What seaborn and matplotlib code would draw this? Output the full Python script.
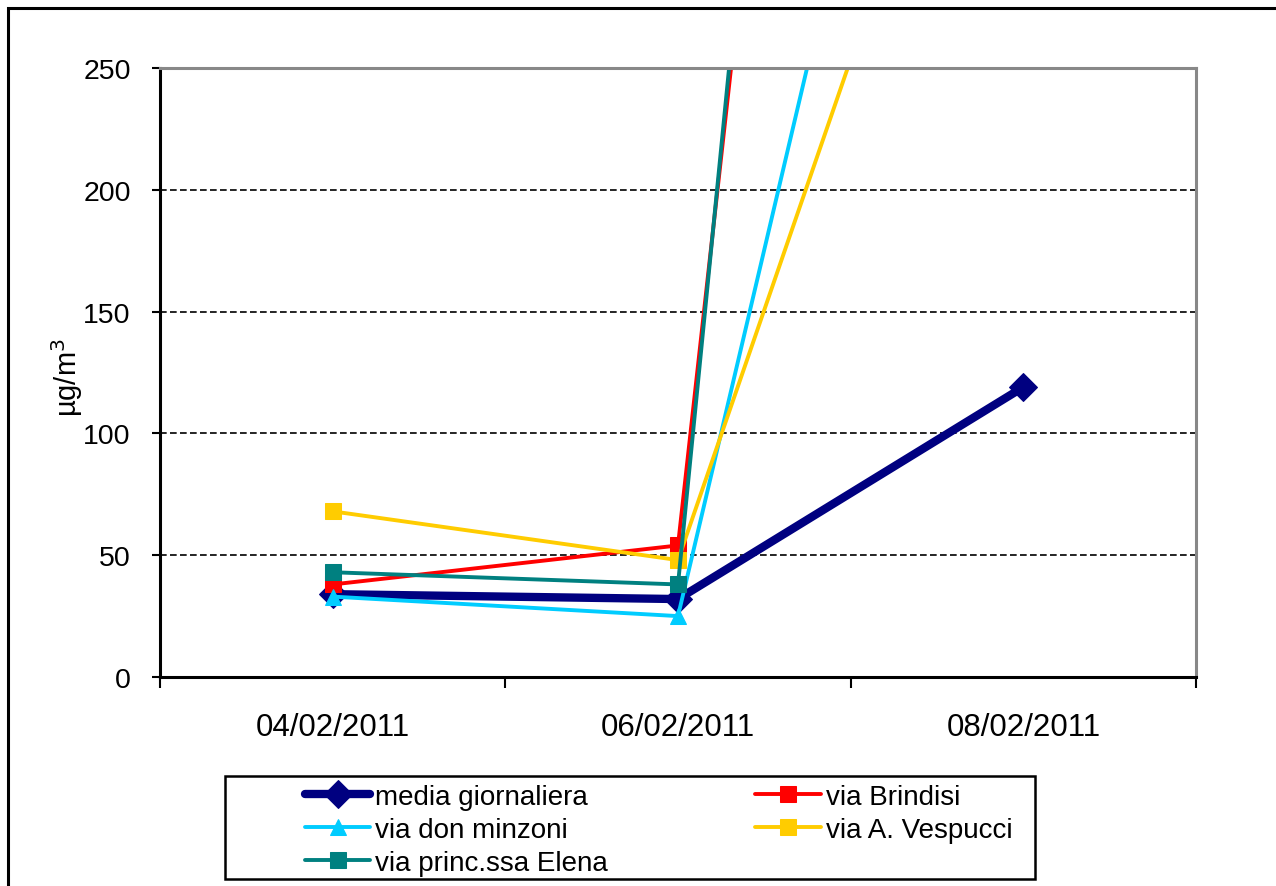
import matplotlib
matplotlib.use("Agg")
import matplotlib.pyplot as plt
import matplotlib.ticker as mticker
from matplotlib.patches import Rectangle
import pandas as pd
import seaborn as sns

dates = ['04/02/2011', '06/02/2011', '08/02/2011']
media_giornaliera = [34, 32, 119]
via_brindisi = [38, 54, 1330]
via_don_minzoni = [33, 25, 627]
via_vespucci = [68, 48, 459]
via_elena = [43, 38, 1471]

series = [
    ('media giornaliera', media_giornaliera, '#000080', 'D', 6.0, 14),
    ('via Brindisi', via_brindisi, '#FF0000', 's', 2.8, 11),
    ('via don minzoni', via_don_minzoni, '#00CCFF', '^', 2.8, 12),
    ('via A. Vespucci', via_vespucci, '#FFCC00', 's', 2.8, 11),
    ('via princ.ssa Elena', via_elena, '#008080', 's', 2.8, 11),
]

sns.set_theme(style='white')
plt.rcParams['font.family'] = ['Liberation Sans', 'DejaVu Sans']
plt.rcParams['text.color'] = 'black'
plt.rcParams['xtick.color'] = 'black'
plt.rcParams['ytick.color'] = 'black'
plt.rcParams['axes.labelcolor'] = 'black'

fig = plt.figure(figsize=(12.76, 8.87), dpi=100)
ax = fig.add_axes([160 / 1276, 1 - 678 / 887, (1196 - 160) / 1276, (678 - 69) / 887])

pos = list(range(len(dates)))
for name, vals, color, marker, lw, ms in series:
    df = pd.DataFrame({'x': pos, 'y': vals})
    sns.lineplot(data=df, x='x', y='y', ax=ax, color=color, marker=marker,
                 linewidth=lw, markersize=ms, markeredgecolor=color, label=name)

ax.set_xlim(-0.5, 2.5)
ax.set_ylim(0, 250)

for yv in [50, 100, 150, 200]:
    ax.axhline(yv, color='black', linestyle=(0, (4, 2)), linewidth=1.2, zorder=0.5)
ax.axhline(250, color='#666666', linestyle=(0, (4, 2)), linewidth=1.2, zorder=0.5)

ax.xaxis.set_major_locator(mticker.FixedLocator([-0.5, 0.5, 1.5, 2.5]))
ax.xaxis.set_major_formatter(mticker.NullFormatter())
ax.xaxis.set_minor_locator(mticker.FixedLocator(pos))
ax.xaxis.set_minor_formatter(mticker.FixedFormatter(dates))
ax.tick_params(axis='x', which='major', direction='out', length=8, width=1.5,
               color='black', bottom=True)
ax.tick_params(axis='x', which='minor', length=0, pad=25, labelsize=22.5)
ax.set_yticks([0, 50, 100, 150, 200, 250])
ax.tick_params(axis='y', direction='out', length=6, width=1.5, color='black',
               left=True, pad=15, labelsize=20.5)
ax.set_xlabel('')
ax.set_ylabel('µg/m$^3$', fontsize=21)
ax.yaxis.set_label_coords((85 - 160) / 1036, (678 - 378) / 609)

for side in ['left', 'bottom']:
    ax.spines[side].set_color('black')
    ax.spines[side].set_linewidth(2.2)
for side in ['top', 'right']:
    ax.spines[side].set_color('#888888')
    ax.spines[side].set_linewidth(2.2)

h, l = ax.get_legend_handles_labels()
order = [0, 2, 4, 1, 3]
ax.legend([h[i] for i in order], [l[i] for i in order], ncol=2, frameon=False,
          loc='upper left', bbox_to_anchor=(305 / 1276, 1 - 785 / 887),
          bbox_transform=fig.transFigure, fontsize=20, handlelength=2.35,
          handletextpad=0.18, columnspacing=5.3, labelspacing=0.25,
          borderaxespad=0, borderpad=0)

fig.patches.append(Rectangle((225 / 1276, 1 - 880 / 887), (1035 - 225) / 1276,
                             (880 - 777) / 887, transform=fig.transFigure,
                             fill=False, edgecolor='black', linewidth=1.8))
fig.patches.append(Rectangle((8 / 1276, -0.2), 1.5, 0.2 + (887 - 9) / 887,
                             transform=fig.transFigure, fill=False,
                             edgecolor='black', linewidth=2.2))

fig.savefig('out.png', dpi=100)
